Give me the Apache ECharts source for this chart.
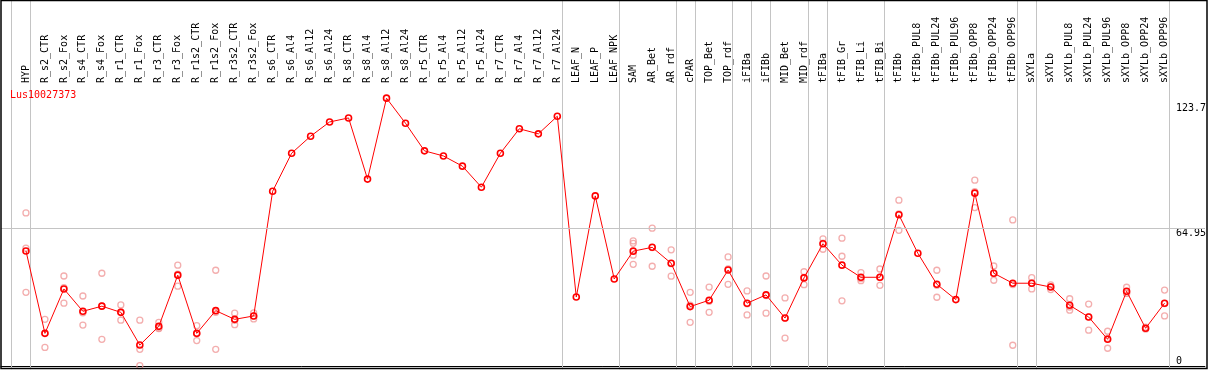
<!DOCTYPE html>
<html><head><meta charset="utf-8">
<script src="https://cdn.jsdelivr.net/npm/echarts@6/dist/echarts.min.js"></script>
<style>html,body{margin:0;padding:0;background:#fff}#c{width:1209px;height:370px}</style>
</head><body><div id="c"></div>
<script>
const chartTitle = 'Lus10027373';
const categories = ['HYP','R_s2_CTR','R_s2_Fox','R_s4_CTR','R_s4_Fox','R_r1_CTR','R_r1_Fox','R_r3_CTR','R_r3_Fox','R_r1s2_CTR','R_r1s2_Fox','R_r3s2_CTR','R_r3s2_Fox','R_s6_CTR','R_s6_Al4','R_s6_Al12','R_s6_Al24','R_s8_CTR','R_s8_Al4','R_s8_Al12','R_s8_Al24','R_r5_CTR','R_r5_Al4','R_r5_Al12','R_r5_Al24','R_r7_CTR','R_r7_Al4','R_r7_Al12','R_r7_Al24','LEAF_N','LEAF_P','LEAF_NPK','SAM','AR_Bet','AR_rdf','cPAR','TOP_Bet','TOP_rdf','iFIBa','iFIBb','MID_Bet','MID_rdf','tFIBa','tFIB_Gr','tFIB_Li','tFIB_Bi','tFIBb','tFIBb_PUL8','tFIBb_PUL24','tFIBb_PUL96','tFIBb_OPP8','tFIBb_OPP24','tFIBb_OPP96','sXYLa','sXYLb','sXYLb_PUL8','sXYLb_PUL24','sXYLb_PUL96','sXYLb_OPP8','sXYLb_OPP24','sXYLb_OPP96'];
const meanValues = [54.3,15.5,36.4,25.9,28.3,25.4,10.0,18.8,42.9,15.5,26.2,22.1,23.7,82.4,100.3,108.3,115.0,116.9,88.1,126.2,114.4,101.4,99.0,94.2,84.3,100.3,111.8,109.4,117.7,32.6,80.2,41.1,54.2,56.0,48.5,28.1,31.1,45.3,29.7,33.6,22.7,41.6,57.7,47.6,41.9,41.9,71.3,53.2,38.6,31.4,81.5,43.8,39.1,39.1,37.3,28.7,23.2,12.7,35.3,17.9,29.7];
const rep1 = [72.2,22.1,42.5,33.1,43.8,28.9,21.7,20.7,47.6,19.1,45.2,25.0,25.1,null,null,null,null,null,null,null,null,null,null,null,null,null,null,null,null,null,null,null,59.0,65.0,54.8,34.8,37.3,51.5,35.5,42.5,32.2,44.5,60.0,60.3,44.1,45.8,78.2,null,45.2,null,87.6,47.2,68.9,41.7,38.3,31.8,29.3,16.5,37.2,18.4,35.9];
const rep2 = [34.8,8.9,29.7,19.4,12.7,21.7,0.3,17.9,37.7,12.1,8.0,19.6,22.3,null,null,null,null,null,null,null,null,null,null,null,null,null,null,null,null,null,null,null,48.0,47.1,42.4,20.7,25.4,38.6,24.2,25.0,13.3,38.4,55.1,30.8,40.3,38.1,64.0,null,32.5,null,74.7,40.5,9.9,36.4,36.1,26.4,17.0,8.5,34.4,17.6,23.7];
const rep3 = [55.6,15.5,37.0,25.2,28.4,25.6,8.0,17.8,43.4,15.3,25.4,21.7,23.7,null,null,null,null,null,null,null,null,null,null,null,null,null,null,null,null,null,null,null,52.3,55.9,48.3,28.8,30.6,45.8,29.4,33.3,22.6,41.9,58.0,51.8,41.3,41.8,71.7,null,38.1,null,82.2,43.7,38.5,39.2,37.5,27.9,23.3,13.1,34.3,17.7,29.5];
const rep4 = [null,null,null,null,null,null,null,null,null,null,null,null,null,null,null,null,null,null,null,null,null,null,null,null,null,null,null,null,null,null,null,null,57.9,null,null,null,null,null,null,null,null,null,null,null,null,null,null,null,null,null,null,null,null,null,null,null,null,null,null,null,null];
const separatorsAfter = [-1,0,28,31,34,35,37,38,39,41,42,45,52,53,60];
const yTickLabels = [123.7, 64.95];
const yZeroLabel = [0];
const refLineValue = 64.95;

const FONT = 'DejaVu Sans Mono';
const chart = echarts.init(document.getElementById('c'), null, {renderer: 'canvas'});
const idx = categories.map((_, i) => i);
const pairs = arr => arr.map((v, i) => v == null ? null : [i, v]).filter(Boolean);
const repData = [].concat(pairs(rep1), pairs(rep2), pairs(rep3), pairs(rep4));

const yLabelBase = {inside: true, margin: 29, align: 'left', fontFamily: FONT, fontSize: 10, color: '#000', formatter: v => String(v)};

chart.setOption({
  animation: false,
  title: {text: chartTitle, left: 10, top: 90, padding: 0,
    textStyle: {color: '#ff0000', fontFamily: FONT, fontSize: 10, fontWeight: 'normal'}},
  grid: {left: 1, right: 2, top: 85, bottom: 3.7, containLabel: false},
  xAxis: [{
    type: 'value', position: 'top', min: -1.315, max: 62.125,
    axisLine: {show: true, lineStyle: {color: '#000', width: 1}},
    axisTick: {show: false}, splitLine: {show: false},
    axisLabel: {show: true, customValues: idx, formatter: v => categories[Math.round(v)],
      rotate: 90, margin: 2, fontFamily: FONT, fontSize: 10, color: '#000'}
  }],
  yAxis: [{
    type: 'value', position: 'right', min: 0, max: 132.4,
    axisLine: {show: false}, axisTick: {show: false}, splitLine: {show: false},
    axisLabel: Object.assign({customValues: yTickLabels, verticalAlign: 'top'}, yLabelBase)
  }, {
    type: 'value', position: 'right', min: 0, max: 132.4,
    axisLine: {show: false}, axisTick: {show: false}, splitLine: {show: false},
    axisLabel: Object.assign({customValues: yZeroLabel, verticalAlign: 'bottom'}, yLabelBase)
  }],
  graphic: [{
    type: 'rect', silent: true, z: 100,
    shape: {x: 1, y: 0.5, width: 1206, height: 368},
    style: {fill: 'none', stroke: '#000', lineWidth: 1.5}
  }],
  series: [{
    type: 'custom', z: 1, silent: true, clip: false,
    data: separatorsAfter.map(i => [i + 0.23, 0]),
    renderItem: (params, api) => {
      const x = Math.round(api.coord([api.value(0), 0])[0]) + 0.5;
      return {type: 'line', shape: {x1: x, y1: 0, x2: x, y2: params.coordSys.y + params.coordSys.height + 3},
        style: {stroke: '#c4c4c4', lineWidth: 1}};
    }
  }, {
    type: 'scatter', z: 2, silent: true, clip: false,
    data: repData, symbol: 'circle', symbolSize: 6,
    itemStyle: {color: 'rgba(0,0,0,0)', borderColor: '#f09a9a', borderWidth: 1.3},
    markLine: {silent: true, symbol: 'none', label: {show: false},
      lineStyle: {color: '#c4c4c4', type: 'solid', width: 1},
      data: [{yAxis: refLineValue}]}
  }, {
    type: 'line', z: 3, silent: true, clip: false,
    data: pairs(meanValues), symbol: 'circle', symbolSize: 6,
    lineStyle: {color: '#ff0000', width: 1},
    itemStyle: {color: 'rgba(0,0,0,0)', borderColor: '#ff0000', borderWidth: 1.6}
  }]
});
</script></body></html>
